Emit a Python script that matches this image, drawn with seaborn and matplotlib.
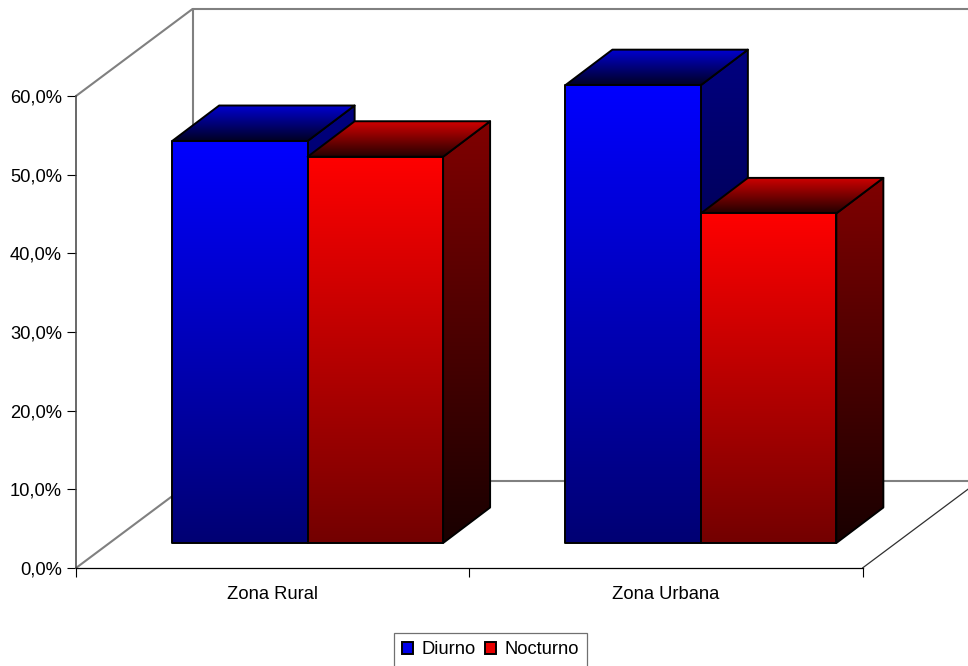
import numpy as np
import pandas as pd
import seaborn as sns
import matplotlib.pyplot as plt
from matplotlib.patches import Polygon

# Values
zonas = ["Zona Rural", "Zona Urbana"]
diurno = [51.1, 58.2]
nocturno = [49.1, 41.9]
y_ticks = [0, 10, 20, 30, 40, 50, 60]
y_labels = ["0,0%", "10,0%", "20,0%", "30,0%", "40,0%", "50,0%", "60,0%"]

W, H = 968, 666
PX_X = 393.25  # pixels per category
PX_Y = 472 / 60  # pixels per percent

sns.set_theme(style="white")
plt.rcParams["font.family"] = ["Liberation Sans", "DejaVu Sans"]
plt.rcParams["font.size"] = 13

df = pd.DataFrame(
    {
        "zona": zonas * 2,
        "serie": ["Diurno"] * 2 + ["Nocturno"] * 2,
        "valor": diurno + nocturno,
    }
)

fig = plt.figure(figsize=(W / 100, H / 100), dpi=100, facecolor="white")


def px_axes(left, bottom, width, height):
    return fig.add_axes([left / W, 1 - bottom / H, width / W, height / H])


############################
# 1. Front axis and the wire frame of the walls
############################

ax_frame = px_axes(76, 568, 2 * PX_X, 472)
ax_frame.set_xlim(0, 2)
ax_frame.set_ylim(0, 60)
ax_frame.patch.set_visible(False)
sns.despine(ax=ax_frame, top=True, right=True)
ax_frame.spines["left"].set_color("#404040")
ax_frame.spines["left"].set_linewidth(1.1)
ax_frame.spines["bottom"].set_color("black")
ax_frame.spines["bottom"].set_linewidth(0.9)

ax_frame.set_yticks(y_ticks, labels=y_labels)
ax_frame.set_xticks([0, 1, 2], labels=[])
ax_frame.set_xticks([0.5, 1.5], labels=zonas, minor=True)
ax_frame.tick_params(axis="y", length=6.5, width=0.8, pad=3.5, left=True, color="black", labelsize=13.2, labelcolor="black")
ax_frame.tick_params(axis="x", which="major", length=6.5, width=0.8, bottom=True, color="black")
ax_frame.tick_params(axis="x", which="minor", length=0, pad=13, labelsize=13.2, labelcolor="black")

# wall depth in axis units
wall_dx = 116.5 / PX_X
wall_dy = 87 / PX_Y
gray = dict(color="#808080", lw=1.5, clip_on=False)
ax_frame.plot([0, wall_dx], [60, 60 + wall_dy], **gray)
ax_frame.plot([0, wall_dx], [0, wall_dy], **gray)
ax_frame.plot([wall_dx, wall_dx], [wall_dy, 60 + wall_dy], **gray)
ax_frame.plot([wall_dx, 2 + wall_dx], [60 + wall_dy, 60 + wall_dy], **gray)
ax_frame.plot([wall_dx, 2 + wall_dx], [wall_dy, wall_dy], **gray)
ax_frame.plot([2, 2 + wall_dx], [0, wall_dy], color="#303030", lw=0.9, clip_on=False)

############################
# 2. Bars, sitting on the floor behind the front axis
############################

y_top = 68
ax = px_axes(111, 543, 2 * PX_X, y_top * PX_Y)
ax.patch.set_visible(False)
sns.barplot(
    data=df,
    x="zona",
    y="valor",
    hue="serie",
    palette={"Diurno": "#0000e8", "Nocturno": "#e80000"},
    width=0.689,
    gap=0,
    saturation=1,
    edgecolor="black",
    linewidth=1.4,
    ax=ax,
)
ax.set_xlim(-0.5, 1.5)
ax.set_ylim(0, y_top)
ax.axis("off")

bar_dx = 47 / PX_X
bar_dy = 35.5 / PX_Y


def gradient(channel, start, end):
    """Vertical ramp, start is the upper colour."""
    ramp = np.zeros((256, 1, 3))
    ramp[:, 0, channel] = np.linspace(start, end, 256) / 255
    return ramp


def draw_face(points, channel, start, end, zorder):
    xs = [p[0] for p in points]
    ys = [p[1] for p in points]
    im = ax.imshow(
        gradient(channel, start, end),
        extent=[min(xs), max(xs), min(ys), max(ys)],
        aspect="auto",
        origin="upper",
        interpolation="bilinear",
        zorder=zorder,
    )
    outline = Polygon(points, closed=True, fill=False, edgecolor="black", lw=1.4, zorder=zorder + 0.5, joinstyle="round", clip_on=False)
    ax.add_patch(outline)
    im.set_clip_path(outline)


order = 2
for i in range(len(zonas)):
    for channel, container in zip([2, 0], ax.containers):
        bar = container[i]
        x0, x1 = bar.get_x(), bar.get_x() + bar.get_width()
        top = bar.get_height()
        # side face
        draw_face(
            [(x1, 0), (x1 + bar_dx, bar_dy), (x1 + bar_dx, top + bar_dy), (x1, top)],
            channel, 128, 25, order,
        )
        # top face
        draw_face(
            [(x0, top), (x1, top), (x1 + bar_dx, top + bar_dy), (x0 + bar_dx, top + bar_dy)],
            channel, 210, 35, order + 1,
        )
        # front face
        draw_face(
            [(x0, 0), (x1, 0), (x1, top), (x0, top)],
            channel, 255, 115, order + 2,
        )
        bar.set_visible(False)
        order += 3

ax.set_xlim(-0.5, 1.5)
ax.set_ylim(0, y_top)

############################
# 3. Legend
############################

sns.move_legend(
    ax,
    loc="center",
    bbox_to_anchor=(490.5 / W, 1 - 650 / H),
    bbox_transform=fig.transFigure,
    ncol=2,
    title=None,
    frameon=True,
    fancybox=False,
    edgecolor="#707070",
    framealpha=1,
    fontsize=13.2,
    handlelength=0.6,
    handleheight=0.6,
    handletextpad=0.43,
    columnspacing=0.55,
    borderpad=0.45,
    borderaxespad=0,
)
legend = ax.get_legend()
legend.get_frame().set_linewidth(0.9)
legend.set_zorder(100)
for text in legend.get_texts():
    text.set_color("black")

fig.savefig("out.png", dpi=100, facecolor="white")
